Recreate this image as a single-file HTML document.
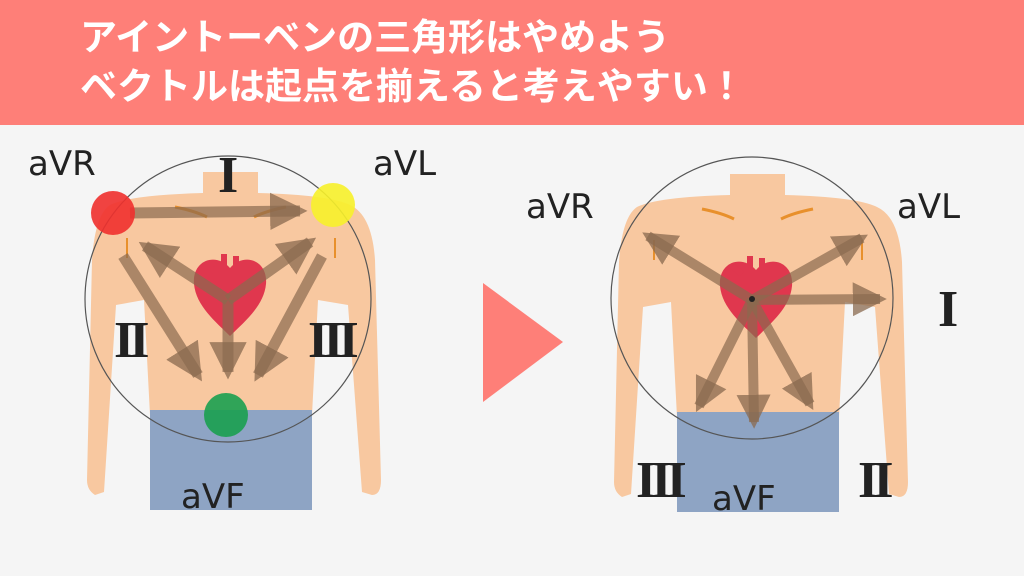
<!DOCTYPE html>
<html><head><meta charset="utf-8"><style>
body{margin:0;width:1024px;height:576px;overflow:hidden;background:#f5f5f5}
svg{display:block}
</style></head><body>
<svg width="1024" height="576" viewBox="0 0 1024 576">
<defs>
<marker id="ah" viewBox="0 0 10 10" refX="8" refY="5" markerWidth="3.4" markerHeight="3.4" orient="auto"><path d="M0,0L10,5L0,10z" fill="#8a6a4f" fill-opacity="0.75"/></marker>
<g id="body">
<rect x="203" y="172" width="55" height="30" fill="#f8c8a0"/>
<path d="M110,205 Q130,195 203,193 H258 Q330,195 350,205 Q372,215 375,260 L381,480 Q381,495 372,495 L362,492 L348,305 L318,300 L312,415 H150 L144,300 L116,305 L104,492 L95,495 Q87,490 87,480 L92,260 Q95,215 110,205 Z" fill="#f8c8a0"/>
<rect x="150" y="410" width="162" height="100" fill="#8ea4c4"/>
<path d="M175,207 q20,4 32,10 M254,217 q12,-6 32,-10" stroke="#e8902c" stroke-width="3" fill="none"/>
<path d="M127,238 v20 M335,238 v20" stroke="#e8902c" stroke-width="2" fill="none"/>
</g>
<g id="heart">
<path d="M0,-22 c-14,-16 -38,-8 -36,16 c2,22 22,38 36,52 c14,-14 34,-30 36,-52 c2,-24 -22,-32 -36,-16z" fill="#e0374e"/>
<path d="M-6,-22 v-14 M6,-22 v-12 M-14,-18 l-10,-8" stroke="#e0374e" stroke-width="6"/>
</g>
</defs>
<rect x="0" y="0" width="1024" height="125" fill="#fe7f78"/>
<text x="80" y="50" font-family="Liberation Sans,'Noto Sans CJK JP',sans-serif" font-size="37" font-weight="bold" fill="#fff">アイントーベンの三角形はやめよう</text>
<text x="80" y="99" font-family="Liberation Sans,'Noto Sans CJK JP',sans-serif" font-size="37" font-weight="bold" fill="#fff">ベクトルは起点を揃えると考えやすい！</text>

<use href="#body"/>
<use href="#heart" transform="translate(230,290)"/>
<circle cx="228" cy="299" r="143" fill="none" stroke="#555" stroke-width="1.2"/>
<g stroke="#8a6a4f" stroke-opacity="0.7" stroke-width="11" marker-end="url(#ah)" fill="none">
<line x1="130" y1="213" x2="300" y2="211"/>
<line x1="123" y1="256" x2="198" y2="375"/>
<line x1="322" y1="256" x2="258" y2="375"/>
<line x1="228" y1="300" x2="145" y2="246"/>
<line x1="228" y1="300" x2="310" y2="242"/>
<line x1="228" y1="300" x2="228" y2="372"/>
</g>
<circle cx="113" cy="213" r="22" fill="#f0302e" fill-opacity="0.9"/>
<circle cx="333" cy="205" r="22" fill="#f7f12a" fill-opacity="0.9"/>
<circle cx="226" cy="415" r="22" fill="#1aa050" fill-opacity="0.9"/>

<use href="#body" transform="translate(527,2)"/>
<use href="#heart" transform="translate(756,292)"/>
<circle cx="752" cy="298" r="141" fill="none" stroke="#555" stroke-width="1.2"/>
<g stroke="#8a6a4f" stroke-opacity="0.7" stroke-width="10" marker-end="url(#ah)" fill="none">
<line x1="752" y1="300" x2="648" y2="236"/>
<line x1="752" y1="300" x2="862" y2="238"/>
<line x1="752" y1="300" x2="880" y2="299"/>
<line x1="752" y1="300" x2="699" y2="406"/>
<line x1="752" y1="300" x2="754" y2="422"/>
<line x1="752" y1="300" x2="810" y2="404"/>
</g>
<circle cx="752" cy="299" r="3" fill="#222"/>

<polygon points="483,283 483,402 563,342" fill="#fe7f78"/>

<g font-family="'DejaVu Sans',sans-serif" font-size="34" fill="#222">
<text x="28" y="175">aVR</text>
<text x="373" y="175">aVL</text>
<text x="181" y="508">aVF</text>
<text x="526" y="218">aVR</text>
<text x="897" y="218">aVL</text>
<text x="712" y="510">aVF</text>
</g>
<g font-family="'Liberation Serif',serif" font-size="52" font-weight="bold" fill="#222" letter-spacing="-5">
<text x="218" y="192">I</text>
<text x="114" y="357">II</text>
<text x="308" y="357">III</text>
<text x="938" y="326">I</text>
<text x="636" y="497">III</text>
<text x="858" y="497">II</text>
</g>
</svg>
</body></html>
